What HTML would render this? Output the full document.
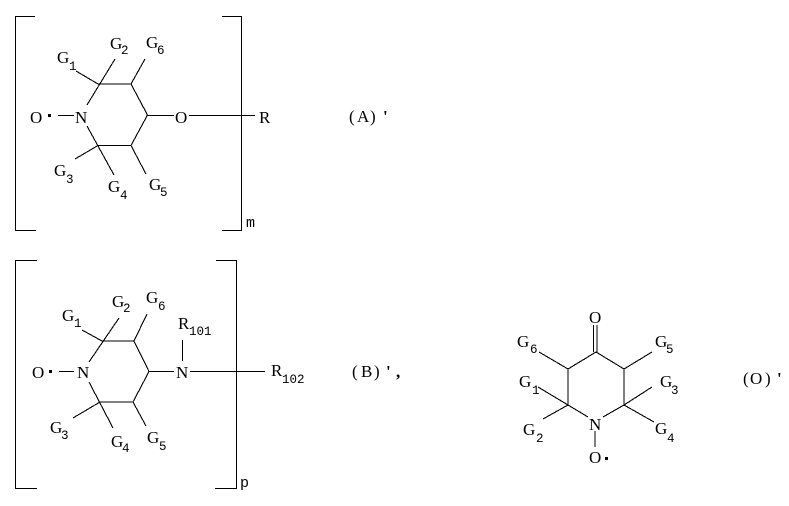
<!DOCTYPE html>
<html><head><meta charset="utf-8"><style>
html,body{margin:0;padding:0;background:#fff}
svg{display:block}
text{font-family:"Liberation Serif",serif;font-size:17px;fill:#000}
.s{font-family:"Liberation Mono",monospace;font-size:12.5px}
.i{font-family:"Liberation Mono",monospace;font-size:15px}
.b{font-weight:bold}
</style></head><body>
<svg width="789" height="506" viewBox="0 0 789 506" xmlns="http://www.w3.org/2000/svg">
<g stroke="#000" stroke-width="1.1" fill="none" shape-rendering="crispEdges">
<path d="M35 16.5H15.5V230.5H36M222 16.5H241.5V230.5H222"/>
<path d="M87 105L115 59M98 84H131L147.5 115L131 145.5H98M87 126L114 175M76 71L98 84M75 159L98 145.5M145 59L131 84M131 145.5L146 174M58 115.5H74M147.5 115.5H174M189 115.5H255"/>
<path d="M37 260.5H15.5V488.5H37M216 260.5H236.5V488.5H215"/>
<path d="M89 362L119 318M102 341H134L149 371.5L133 402H100M89 382L113 428M82 330L102 341M73 418L100 402M147 314L134 341M133 402L146 426M59 371.5H74M149 371.5H174M182.5 340V361M190 371.5H265"/>
<path d="M593.5 325V352M597 325V352M568 369L596 352L624 369V405L603 417M568 369V405L588 417M539 352L568 369M652 352L624 369M538 387L568 405M543 419L568 405M652 387L624 405M654 422L624 405M595 431V447"/>
</g>
<g fill="#000" shape-rendering="crispEdges">
<rect x="48" y="114" width="3" height="3"/><rect x="49" y="370" width="3" height="3"/><rect x="605" y="457" width="3" height="3"/>
</g>
<text x="57" y="63">G</text><text class="s" x="69" y="70">1</text>
<text x="110" y="49">G</text><text class="s" x="121" y="54">2</text>
<text x="146" y="48">G</text><text class="s" x="157" y="54">6</text>
<text x="54" y="176">G</text><text class="s" x="66" y="183">3</text>
<text x="108" y="192">G</text><text class="s" x="120" y="199">4</text>
<text x="149" y="190">G</text><text class="s" x="160" y="196">5</text>
<text x="30" y="123">O</text><text x="75" y="123">N</text><text x="175" y="123">O</text><text x="259" y="123">R</text>
<text class="i" x="246" y="227">m</text>
<text x="349 357 370" y="122">(A)</text><text class="b" x="383" y="122">'</text>
<text x="62" y="321">G</text><text class="s" x="74" y="327">1</text>
<text x="112" y="307">G</text><text class="s" x="123" y="312">2</text>
<text x="146" y="303">G</text><text class="s" x="158" y="310">6</text>
<text x="178" y="329">R</text><text class="s" x="189" y="335">101</text>
<text x="32" y="378">O</text><text x="77" y="378">N</text><text x="176" y="378">N</text>
<text x="271" y="376">R</text><text class="s" x="282" y="383">102</text>
<text x="50" y="433">G</text><text class="s" x="61" y="439">3</text>
<text x="111" y="447">G</text><text class="s" x="122" y="452">4</text>
<text x="147" y="443">G</text><text class="s" x="159" y="450">5</text>
<text class="i" x="240" y="487">p</text>
<text x="352 361 374" y="377">(B)</text><text class="b" x="386 396" y="377">',</text>
<text x="589" y="323">O</text><text x="589" y="430">N</text><text x="589" y="463">O</text>
<text x="517" y="347">G</text><text class="s" x="530" y="353">6</text>
<text x="655" y="347">G</text><text class="s" x="666" y="353">5</text>
<text x="519" y="387">G</text><text class="s" x="532" y="394">1</text>
<text x="660" y="387">G</text><text class="s" x="671" y="394">3</text>
<text x="523" y="435">G</text><text class="s" x="536" y="442">2</text>
<text x="655" y="434">G</text><text class="s" x="667" y="442">4</text>
<text x="743 750 765" y="384">(O)</text><text class="b" x="777" y="384">'</text>
</svg>
</body></html>
